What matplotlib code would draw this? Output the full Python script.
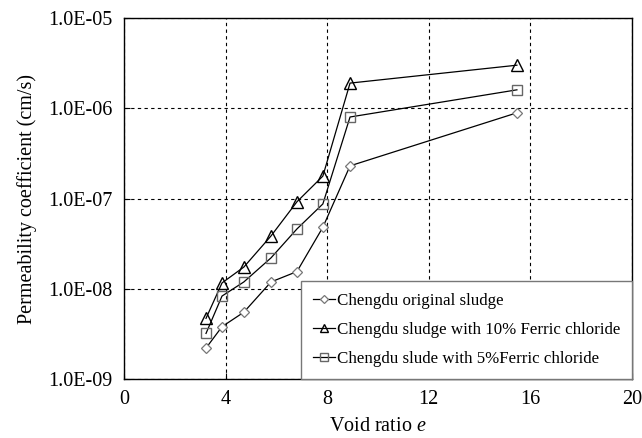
import matplotlib
matplotlib.use('Agg')
import matplotlib.pyplot as plt
from matplotlib.ticker import FixedLocator, FuncFormatter

# Data
void_ratio = [3.23, 3.86, 4.72, 5.79, 6.81, 7.83, 8.90, 15.47]
k_original = [2.2e-9, 3.8e-9, 5.5e-9, 1.19e-8, 1.55e-8, 4.8e-8, 2.3e-7, 8.9e-7]
k_ferric10 = [4.7e-9, 1.16e-8, 1.74e-8, 3.85e-8, 9.2e-8, 1.77e-7, 1.9e-6, 3.0e-6]
k_ferric5 = [3.2e-9, 8.3e-9, 1.19e-8, 2.2e-8, 4.6e-8, 8.7e-8, 8.0e-7, 1.6e-6]

labels = ['Chengdu original sludge',
          'Chengdu sludge with 10% Ferric chloride',
          'Chengdu slude with 5%Ferric chloride']

x_ticks = [0, 4, 8, 12, 16, 20]
y_ticks = [1e-9, 1e-8, 1e-7, 1e-6, 1e-5]

plt.rcParams['font.family'] = ['Liberation Serif', 'DejaVu Serif']
plt.rcParams['mathtext.fontset'] = 'custom'
plt.rcParams['mathtext.it'] = 'Liberation Serif:italic'
plt.rcParams['mathtext.rm'] = 'Liberation Serif'

fig = plt.figure(figsize=(6.42, 4.38), dpi=100)
ax = fig.add_axes([0.1931, 0.1347, 0.7913, 0.8242])

ax.plot(void_ratio, k_original, color='black', lw=0.9, marker='D', ms=5.5,
        mfc='white', mec='#777777', mew=0.9, label=labels[0])
ax.plot(void_ratio, k_ferric10, color='black', lw=0.9, marker='^', ms=8.5,
        mfc='none', mec='black', mew=1.0, label=labels[1])
ax.plot(void_ratio, k_ferric5, color='black', lw=0.9, marker='s', ms=7.5,
        mfc='none', mec='#666666', mew=1.0, label=labels[2])

ax.set_yscale('log')
ax.set_xlim(0, 20)
ax.set_ylim(1e-9, 1e-5)
ax.xaxis.set_major_locator(FixedLocator(x_ticks))
ax.yaxis.set_major_locator(FixedLocator(y_ticks))
ax.yaxis.set_minor_locator(FixedLocator([]))
ax.yaxis.set_major_formatter(FuncFormatter(lambda v, p: '%.1E' % v))
ax.tick_params(direction='in', labelsize=14.5, length=4, pad=8)

ax.grid(True, which='major', color='black', linestyle=(0, (3, 3)), lw=0.8)
for s in ax.spines.values():
    s.set_linewidth(1.0)

ax.set_xlabel('Void ratio $e$', fontsize=14.5, labelpad=6)
ax.set_ylabel('Permeability coefficient (cm/s)', fontsize=14.5, labelpad=8)

leg = ax.legend(loc='lower right', fontsize=12.2, borderaxespad=0,
                fancybox=False, framealpha=1, edgecolor='#777777',
                handlelength=1.3, handletextpad=0.1, labelspacing=0.78,
                borderpad=0.7, markerscale=0.75)
leg.get_frame().set_linewidth(1.0)

fig.savefig('out.png', dpi=100)
